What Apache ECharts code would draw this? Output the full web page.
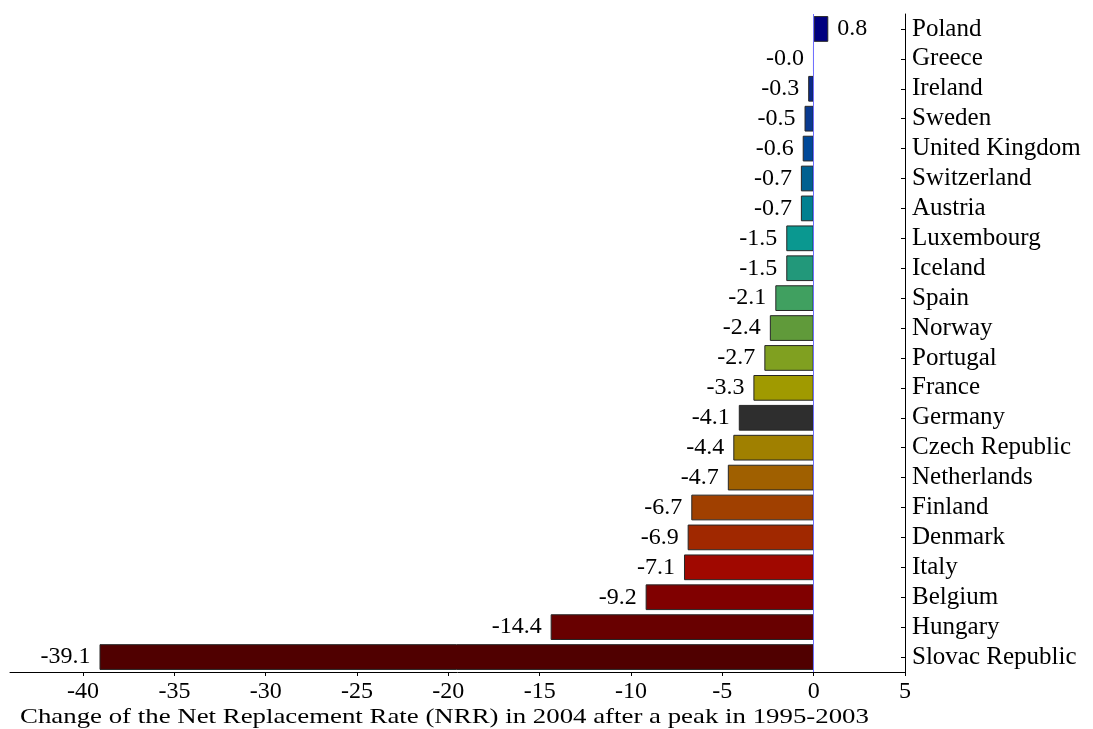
<!DOCTYPE html>
<html>
<head>
<meta charset="utf-8">
<script src="https://cdn.jsdelivr.net/npm/echarts@6/dist/echarts.min.js"></script>
<style>
html,body{margin:0;padding:0;background:#fff;}
#chart{width:1093px;height:729px;}
</style>
</head>
<body>
<div id="chart"></div>
<script>
const countries = ["Poland","Greece","Ireland","Sweden","United Kingdom","Switzerland","Austria","Luxembourg","Iceland","Spain","Norway","Portugal","France","Germany","Czech Republic","Netherlands","Finland","Denmark","Italy","Belgium","Hungary","Slovac Republic"];
const nrrChange = [0.8,-0.02,-0.3,-0.5,-0.6,-0.7,-0.7,-1.5,-1.5,-2.1,-2.4,-2.7,-3.3,-4.1,-4.4,-4.7,-6.7,-6.9,-7.1,-9.2,-14.4,-39.1];
const barColors = ["#000080","#0a1a80","#0a2a8a","#0a3a90","#004898","#006090","#008090","#0a9890","#22987a","#40a060","#609a3a","#80a020","#a09a00","#2e2e2e","#a08000","#a06000","#a04000","#a02800","#a00800","#800000","#680000","#500000"];
const xTicks = [-40,-35,-30,-25,-20,-15,-10,-5,0,5];
const xTitle = "Change of the Net Replacement Rate (NRR) in 2004 after a peak in 1995-2003";

const FONT = "'Liberation Serif', 'Times New Roman', serif";
const FS = 24;

const chart = echarts.init(document.getElementById('chart'), null, {renderer:'canvas'});
chart.setOption({
  backgroundColor:'#ffffff',
  animation:false,
  graphic:[{
    type:'text', x:20, y:717, scaleX:1.22, scaleY:1, silent:true,
    style:{text:xTitle, font:"22px 'Liberation Serif', 'Times New Roman', serif", fill:'#000', textAlign:'left', textVerticalAlign:'middle'}
  }],
  grid:{left:10, right:188, top:14, bottom:57, containLabel:false},
  xAxis:{
    type:'value', min:-44, max:5,
    axisLine:{show:true, onZero:false, lineStyle:{color:'#000', width:1}},
    axisTick:{show:true, length:4, customValues:xTicks, lineStyle:{color:'#000'}},
    axisLabel:{show:true, customValues:xTicks, margin:8, fontFamily:FONT, fontSize:FS, color:'#000'},
    splitLine:{show:false}
  },
  yAxis:{
    type:'category', data:countries, inverse:true, position:'right',
    axisLine:{show:true, onZero:false, lineStyle:{color:'#000', width:1}},
    axisTick:{show:true, inside:true, length:4, alignWithLabel:true, interval:0, lineStyle:{color:'#000'}},
    axisLabel:{interval:0, margin:7, fontFamily:FONT, fontSize:25, color:'#000', padding:[5,0,0,0]},
    splitLine:{show:false}
  },
  series:[{
    type:'bar',
    barCategoryGap:'14%',
    data:nrrChange.map((v,i)=>({
      value:v,
      itemStyle:{color:barColors[i], borderColor:'#262626', borderWidth:1},
      label:{position: v>=0 ? 'right' : 'left'}
    })),
    label:{
      show:true, distance:9, fontFamily:FONT, fontSize:FS, color:'#000',
      padding:[5,0,0,0],
      formatter:p=>p.value.toFixed(1)
    },
    markLine:{
      silent:true, symbol:'none', label:{show:false},
      lineStyle:{color:'#7070ff', width:1, type:'solid'},
      data:[{xAxis:0}]
    }
  }]
});
</script>
</body>
</html>
